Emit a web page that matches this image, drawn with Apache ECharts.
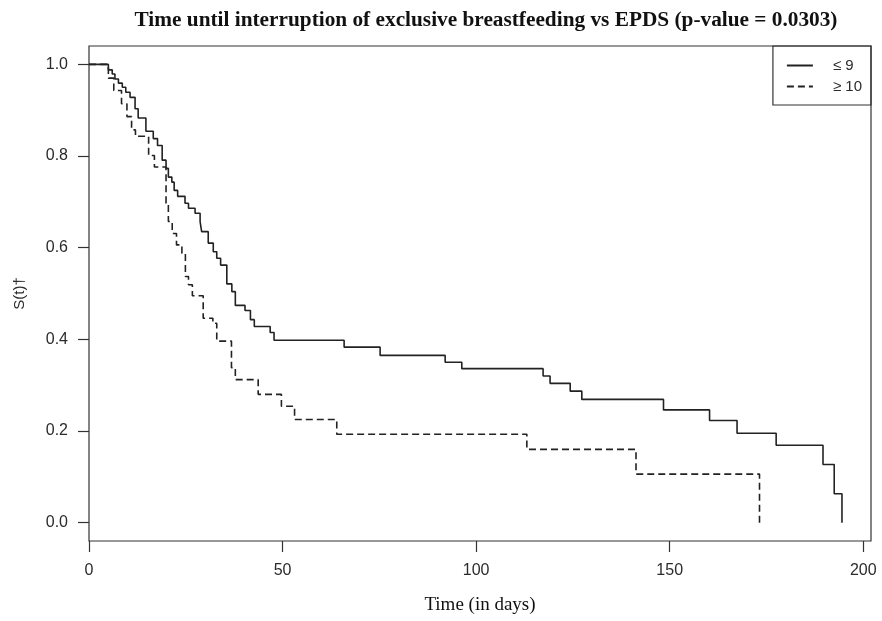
<!DOCTYPE html>
<html>
<head>
<meta charset="utf-8">
<script src="https://cdn.jsdelivr.net/npm/echarts@6/dist/echarts.min.js"></script>
<style>
html,body{margin:0;padding:0;background:#fff;}
#chart{width:882px;height:621px;}
</style>
</head>
<body>
<div id="chart"></div>
<script>
// EPDS <= 9 (solid) : Kaplan-Meier step points [time in days, S(t)]
const lowTimes = [0, 5.0, 6.0, 6.7, 7.6, 8.6, 9.5, 10.6, 11.9, 12.7, 14.7, 16.6, 17.7, 18.9, 19.9, 20.5, 21.4, 22.0, 22.9, 24.8, 25.7, 27.4, 28.7, 29.1, 30.8, 32.1, 33.0, 34.0, 35.6, 36.9, 37.8, 40.3, 41.7, 42.7, 46.8, 47.8, 65.9, 75.2, 92.0, 96.3, 117.3, 119.1, 124.3, 127.3, 148.4, 160.3, 167.4, 177.5, 189.6, 192.5, 194.5];
const lowSurv  = [1.0, 0.988, 0.979, 0.968, 0.959, 0.950, 0.939, 0.928, 0.903, 0.883, 0.854, 0.838, 0.823, 0.791, 0.773, 0.754, 0.743, 0.725, 0.712, 0.697, 0.686, 0.675, 0.657, 0.635, 0.610, 0.591, 0.577, 0.562, 0.521, 0.504, 0.474, 0.463, 0.443, 0.428, 0.415, 0.398, 0.383, 0.365, 0.350, 0.336, 0.320, 0.304, 0.287, 0.269, 0.246, 0.223, 0.195, 0.169, 0.127, 0.063, 0.0];

// EPDS >= 10 (dashed)
const highTimes = [0, 5.0, 6.4, 8.4, 9.8, 11.0, 12.0, 15.4, 16.9, 19.9, 20.5, 21.5, 22.6, 24.0, 24.9, 25.7, 26.7, 29.5, 32.0, 33.0, 36.8, 37.8, 43.7, 49.7, 53.1, 64.0, 113.1, 141.3, 173.2];
const highSurv  = [1.0, 0.970, 0.943, 0.914, 0.886, 0.857, 0.843, 0.801, 0.776, 0.697, 0.657, 0.631, 0.606, 0.588, 0.537, 0.519, 0.495, 0.446, 0.435, 0.396, 0.338, 0.312, 0.280, 0.254, 0.225, 0.193, 0.160, 0.106, 0.0];

const xTicks = [0, 50, 100, 150, 200];
const yTicks = [0, 0.2, 0.4, 0.6, 0.8, 1.0];
const seriesNames = ['\u2264 9', '\u2265 10'];
const titleText = 'Time until interruption of exclusive breastfeeding vs EPDS (p-value = 0.0303)';

const pair = (ts, ss) => ts.map((t, i) => [t, ss[i]]);
const ink = '#2b2b2b';
const sans = '"Liberation Sans", Arial, sans-serif';
const serif = '"Liberation Serif", "Times New Roman", serif';

const chart = echarts.init(document.getElementById('chart'), null, {renderer: 'canvas'});
chart.setOption({
  animation: false,
  backgroundColor: '#fff',
  title: {
    text: titleText,
    left: 481, top: 5, textAlign: 'center',
    textStyle: {fontFamily: serif, fontWeight: 'bold', fontSize: 21.3, color: '#111'}
  },
  grid: {
    left: 89, right: 11, top: 46, bottom: 80,
    show: true, borderColor: '#333', borderWidth: 1.2, backgroundColor: 'transparent'
  },
  legend: {
    orient: 'vertical', right: 11, top: 46,
    padding: [12, 9, 11, 13], itemGap: 6,
    itemWidth: 26, itemHeight: 14,
    borderColor: '#333', borderWidth: 1.2,
    data: seriesNames,
    itemStyle: {color: 'rgba(0,0,0,0)', borderWidth: 0, opacity: 0},
    textStyle: {fontFamily: sans, fontSize: 15, color: ink, padding: [0, 0, 0, 15]}
  },
  xAxis: {
    type: 'value', min: 0, max: 202,
    splitLine: {show: false},
    axisLine: {show: false, onZero: false},
    axisTick: {show: true, inside: false, length: 11, customValues: xTicks, lineStyle: {color: '#333', width: 1.2}},
    axisLabel: {customValues: xTicks, margin: 22, fontFamily: sans, fontSize: 16, color: ink},
    name: 'Time (in days)', nameLocation: 'middle', nameGap: 55,
    nameTextStyle: {fontFamily: serif, fontSize: 19, color: '#111'}
  },
  yAxis: {
    type: 'value', min: -0.04, max: 1.04,
    splitLine: {show: false},
    axisLine: {show: false, onZero: false},
    axisTick: {show: true, inside: false, length: 11, customValues: yTicks, lineStyle: {color: '#333', width: 1.2}},
    axisLabel: {customValues: yTicks, margin: 21, fontFamily: sans, fontSize: 16, color: ink,
      formatter: v => v.toFixed(1)},
    name: 'S(t)\u2020', nameLocation: 'middle', nameGap: 62, nameRotate: 90,
    nameTextStyle: {fontFamily: sans, fontSize: 15, color: ink}
  },
  series: [
    {
      name: seriesNames[0], type: 'line', step: 'end', symbol: 'none',
      data: pair(lowTimes, lowSurv),
      lineStyle: {color: '#222', width: 1.6, type: 'solid'},
      itemStyle: {color: '#222'}
    },
    {
      name: seriesNames[1], type: 'line', step: 'end', symbol: 'none',
      data: pair(highTimes, highSurv),
      lineStyle: {color: '#222', width: 1.6, type: [7, 4]},
      itemStyle: {color: '#222'}
    }
  ]
});
</script>
</body>
</html>
